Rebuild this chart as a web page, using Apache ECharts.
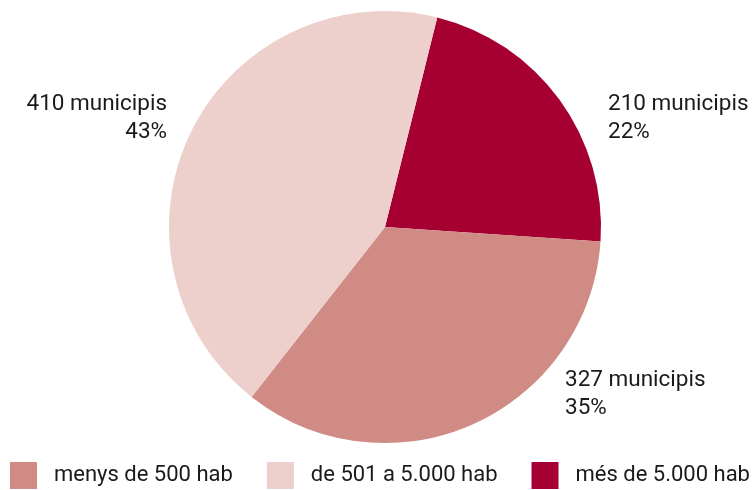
<!DOCTYPE html>
<html>
<head>
<meta charset="utf-8">
<script src="https://cdn.jsdelivr.net/npm/echarts@6/dist/echarts.min.js"></script>
<style>
html,body{margin:0;padding:0;background:#fff;}
#c{width:756px;height:490px;}
</style>
</head>
<body>
<div id="c"></div>
<script>
// Data
var categories = ['més de 5.000 hab', 'menys de 500 hab', 'de 501 a 5.000 hab'];
var values = [210, 327, 410];
var legendOrder = ['menys de 500 hab', 'de 501 a 5.000 hab', 'més de 5.000 hab'];
var colors = ['#A60033', '#D08B85', '#EDCFCB'];
var unit = ' municipis';

// Label anchors (layout only)
var labelAnchors = [
  {x: 608, y: 90, align: 'left'},
  {x: 565, y: 366, align: 'left'},
  {x: 167, y: 90, align: 'right'}
];

var FONT = "Roboto, 'Liberation Sans', sans-serif";

var chart = echarts.init(document.getElementById('c'), null, {renderer: 'canvas'});
chart.setOption({
  animation: false,
  backgroundColor: '#ffffff',
  color: colors,
  legend: {
    data: legendOrder,
    left: 10,
    top: 462,
    width: 746,
    padding: 0,
    icon: 'rect',
    itemWidth: 27,
    itemHeight: 27,
    itemGap: 34,
    textStyle: {fontFamily: FONT, fontSize: 22, color: '#1a1a1a', padding: [0, 0, 0, 12]}
  },
  series: [{
    type: 'pie',
    center: [385, 227],
    radius: 216,
    startAngle: 76,
    clockwise: true,
    percentPrecision: 0,
    avoidLabelOverlap: false,
    data: categories.map(function (c, i) { return {name: c, value: values[i]}; }),
    label: {
      show: true,
      position: 'outside',
      formatter: function (p) { return p.value + unit + '\n' + p.percent + '%'; },
      fontFamily: FONT,
      fontSize: 22.5,
      lineHeight: 28,
      color: '#1a1a1a'
    },
    labelLine: {show: false},
    labelLayout: function (p) {
      var a = labelAnchors[p.dataIndex];
      return {x: a.x, y: a.y, align: a.align, verticalAlign: 'top'};
    },
    itemStyle: {borderWidth: 0},
    emphasis: {disabled: true}
  }]
});
</script>
</body>
</html>
